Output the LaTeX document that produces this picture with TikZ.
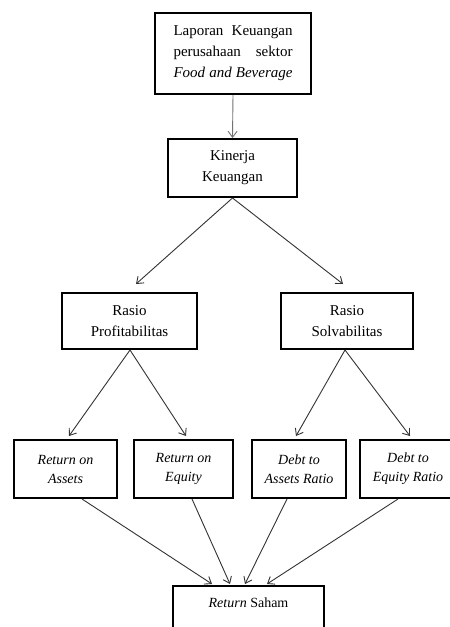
\documentclass[tikz,border=0pt]{standalone}
\usepackage{fontspec}
\setmainfont{Liberation Serif}
\usetikzlibrary{arrows.meta}
\begin{document}
\begin{tikzpicture}[x=1pt,y=-1pt,
  box/.style={draw=black,line width=2pt,fill=white,align=center,inner sep=0pt,
    font=\fontsize{15}{21}\selectfont},
  smallbox/.style={box,font=\fontsize{14}{19}\selectfont},
  arr/.style={draw=black!80,line width=0.9pt,-{Straight Barb[length=6pt,width=9pt,line width=0.9pt]}}]
\useasboundingbox (0,0) rectangle (450,627);
\clip (0,0) rectangle (450,627);
\fill[white] (0,0) rectangle (450,627);
\node[box,minimum width=156pt,minimum height=81pt] (top) at (233,53.5)
  {\makebox[119pt][s]{Laporan Keuangan}\\ \makebox[119pt][s]{perusahaan sektor}\\ \makebox[119pt][s]{\textit{Food and Beverage}}};
\node[box,minimum width=129pt,minimum height=58pt] (kin) at (232.5,168) {Kinerja\\Keuangan};
\node[box,minimum width=135pt,minimum height=56pt] (prof) at (129.5,321) {Rasio\\Profitabilitas};
\node[box,minimum width=132pt,minimum height=56pt] (solv) at (347,321) {Rasio\\Solvabilitas};
\node[smallbox,minimum width=103pt,minimum height=58pt] (roa) at (65.5,469) {\textit{Return on}\\\textit{Assets}};
\node[smallbox,minimum width=99pt,minimum height=58pt] (roe) at (183.5,469) {\textit{Return on}\\\textit{Equity}};
\node[smallbox,minimum width=94pt,minimum height=58pt] (dar) at (299,469) {\textit{Debt to}\\\textit{Assets Ratio}};
\node[smallbox,minimum width=96pt,minimum height=58pt] (der) at (408,469) {\textit{Debt to}\\\textit{Equity Ratio}};
\node[smallbox,minimum width=151pt,minimum height=58pt] (rs) at (248.5,615) {\textit{Return} Saham\\\strut};
\draw[arr,draw=black!55] (top.south) -- (kin.north);
\draw[arr] (kin.south) -- ([xshift=6.5pt,yshift=8pt]prof.north);
\draw[arr] (kin.south) -- ([xshift=-4pt,yshift=8pt]solv.north);
\draw[arr] ([xshift=0.5pt]prof.south) -- ([xshift=3.5pt,yshift=3pt]roa.north);
\draw[arr] ([xshift=0.5pt]prof.south) -- ([xshift=2.5pt,yshift=3pt]roe.north);
\draw[arr] ([xshift=-2pt]solv.south) -- ([xshift=-3pt,yshift=3pt]dar.north);
\draw[arr] ([xshift=-2pt]solv.south) -- ([xshift=2pt,yshift=3pt]der.north);
\draw[arr] ([xshift=16.5pt]roa.south) -- ([xshift=-36.5pt,yshift=1pt]rs.north);
\draw[arr] ([xshift=8.5pt]roe.south) -- ([xshift=-18.5pt,yshift=1pt]rs.north);
\draw[arr] ([xshift=-12pt]dar.south) -- ([xshift=-3.5pt,yshift=1pt]rs.north);
\draw[arr] ([xshift=-10pt]der.south) -- ([xshift=18.5pt,yshift=1pt]rs.north);
\end{tikzpicture}
\end{document}
